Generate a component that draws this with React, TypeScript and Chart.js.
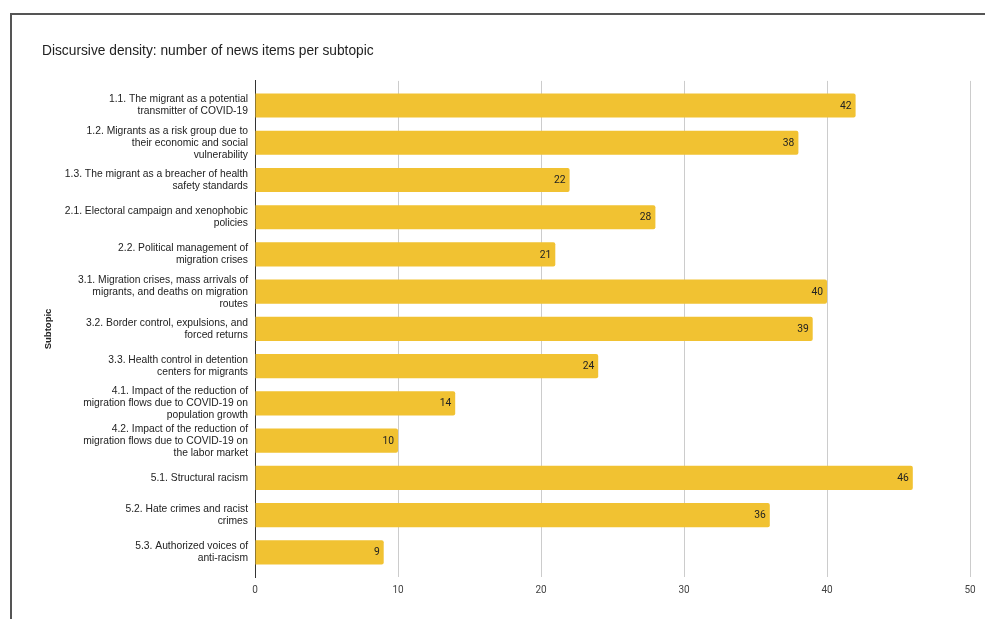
import React, { useEffect, useRef } from "react";
import { Chart, registerables } from "chart.js";

Chart.register(...registerables);

const TITLE = "Discursive density: number of news items per subtopic";
const AXIS_TITLE = "Subtopic";

const subtopics: (string | string[])[] = [
  ["1.1. The migrant as a potential", "transmitter of COVID-19"],
  ["1.2. Migrants as a risk group due to", "their economic and social", "vulnerability"],
  ["1.3. The migrant as a breacher of health", "safety standards"],
  ["2.1. Electoral campaign and xenophobic", "policies"],
  ["2.2. Political management of", "migration crises"],
  ["3.1. Migration crises, mass arrivals of", "migrants, and deaths on migration", "routes"],
  ["3.2. Border control, expulsions, and", "forced returns"],
  ["3.3. Health control in detention", "centers for migrants"],
  ["4.1. Impact of the reduction of", "migration flows due to COVID-19 on", "population growth"],
  ["4.2. Impact of the reduction of", "migration flows due to COVID-19 on", "the labor market"],
  "5.1. Structural racism",
  ["5.2. Hate crimes and racist", "crimes"],
  ["5.3. Authorized voices of", "anti-racism"],
];

const newsItems: number[] = [42, 38, 22, 28, 21, 40, 39, 24, 14, 10, 46, 36, 9];

const xMin = 0;
const xMax = 50;
const xStep = 10;

const BAR_COLOR = "#f1c232";

const valueLabels = {
  id: "valueLabels",
  afterDatasetsDraw(chart: any) {
    const ctx = chart.ctx;
    const meta = chart.getDatasetMeta(0);
    ctx.save();
    ctx.font = "10.3px Roboto, 'Liberation Sans', sans-serif";
    ctx.fillStyle = "#222222";
    ctx.textAlign = "right";
    ctx.textBaseline = "middle";
    meta.data.forEach((bar: any, i: number) => {
      const v = chart.data.datasets[0].data[i];
      ctx.fillText(String(v), bar.x - 4, bar.y + 0.5);
    });
    ctx.restore();
  },
};

const categoryInset = {
  id: "categoryInset",
  afterLayout(chart: any) {
    const y = chart.scales.y;
    if (!y) return;
    const inset = 6;
    y._startPixel = y.top + inset;
    y._endPixel = y.bottom - inset;
    y._length = y._endPixel - y._startPixel;
  },
};

export default function App() {
  const canvasRef = useRef<HTMLCanvasElement | null>(null);

  useEffect(() => {
    if (!canvasRef.current) return;
    const chart = new Chart(canvasRef.current, {
      type: "bar",
      data: {
        labels: subtopics,
        datasets: [
          {
            label: "Number of news items",
            data: newsItems,
            backgroundColor: BAR_COLOR,
            borderWidth: 0,
            borderRadius: 2,
            borderSkipped: "start",
            barPercentage: 0.65,
            categoryPercentage: 1,
          },
        ],
      },
      options: {
        indexAxis: "y",
        animation: false,
        responsive: false,
        maintainAspectRatio: false,
        layout: { padding: { left: 30, right: 15, top: 0, bottom: 0 } },
        plugins: {
          legend: { display: false },
          tooltip: { enabled: false },
          title: {
            display: true,
            text: TITLE,
            align: "start",
            color: "#222222",
            font: { family: "'Liberation Sans', Arial, sans-serif", size: 13.75, weight: "normal" },
            padding: { top: 27.8, bottom: 21.6 },
          },
        },
        scales: {
          x: {
            type: "linear",
            min: xMin,
            max: xMax,
            ticks: {
              stepSize: xStep,
              color: "#444444",
              padding: 7,
              font: { family: "Roboto, 'Liberation Sans', sans-serif", size: 10 },
            },
            grid: {
              drawTicks: false,
              color: (c: any) => (c.tick && c.tick.value === 0 ? "rgba(0,0,0,0)" : "#cccccc"),
              lineWidth: 1,
            },
            border: { display: false },
            afterFit: (scale: any) => {
              scale.height = 42;
            },
          },
          y: {
            type: "category",
            grid: { display: false, drawTicks: false },
            border: { display: true, color: "#333333", width: 1 },
            ticks: {
              color: "#222222",
              padding: 7,
              autoSkip: false,
              font: { family: "'Liberation Sans', Arial, sans-serif", size: 10.3, lineHeight: "12px" },
            },
            title: {
              display: true,
              text: AXIS_TITLE,
              color: "#222222",
              padding: { top: 1, bottom: 0 },
              font: { family: "'Liberation Sans', Arial, sans-serif", size: 9.5, weight: "bold" },
            },
            afterFit: (scale: any) => {
              scale.width = 213;
            },
          },
        },
      },
      plugins: [valueLabels, categoryInset],
    });
    return () => chart.destroy();
  }, []);

  return (
    <div
      style={{
        position: "fixed",
        left: 0,
        top: 0,
        width: 985,
        height: 619,
        background: "#ffffff",
        overflow: "hidden",
      }}
    >
      <div style={{ position: "absolute", left: 10, top: 13, width: 975, height: 2, background: "#555555" }} />
      <div style={{ position: "absolute", left: 10, top: 13, width: 2, height: 606, background: "#555555" }} />
      <canvas
        ref={canvasRef}
        width={973}
        height={604}
        style={{ position: "absolute", left: 12, top: 15, width: 973, height: 604 }}
      />
    </div>
  );
}
